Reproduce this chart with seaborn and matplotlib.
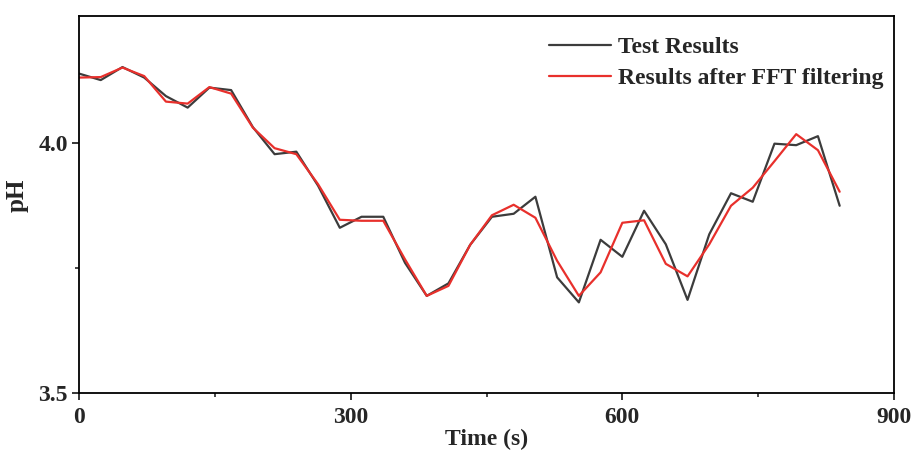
import numpy as np
import pandas as pd
import matplotlib
matplotlib.use("Agg")
import matplotlib.pyplot as plt
from matplotlib.ticker import FixedLocator
import seaborn as sns

time_s = [0, 24, 48, 72, 96, 120, 144, 168, 192, 216, 240, 264, 288, 312, 336, 360,
          384, 408, 432, 456, 480, 504, 528, 552, 576, 600, 624, 648, 672, 696, 720,
          744, 768, 792, 816, 840]
test_results = [4.138, 4.125, 4.151, 4.130, 4.093, 4.070, 4.110, 4.105, 4.031, 3.977,
                3.982, 3.914, 3.830, 3.852, 3.852, 3.760, 3.694, 3.719, 3.796, 3.852,
                3.858, 3.892, 3.731, 3.681, 3.806, 3.772, 3.864, 3.797, 3.686, 3.817,
                3.899, 3.882, 3.998, 3.995, 4.013, 3.874]
fft_results = [4.130, 4.131, 4.150, 4.133, 4.082, 4.078, 4.111, 4.098, 4.030, 3.989,
               3.977, 3.917, 3.846, 3.844, 3.844, 3.767, 3.694, 3.714, 3.796, 3.855,
               3.876, 3.850, 3.764, 3.694, 3.741, 3.840, 3.845, 3.758, 3.733, 3.797,
               3.874, 3.910, 3.963, 4.017, 3.985, 3.902]
series_names = ["Test Results", "Results after FFT filtering"]
x_ticks = [0, 300, 600, 900]
x_minor = [150, 450, 750]
y_ticks = [3.5, 4.0]
y_minor = [3.75]

df = pd.DataFrame({
    "Time (s)": time_s * 2,
    "pH": test_results + fft_results,
    "series": [series_names[0]] * len(time_s) + [series_names[1]] * len(time_s),
})

sns.set_theme(style="white")
plt.rcParams["font.family"] = ["Liberation Serif", "DejaVu Serif"]
plt.rcParams["font.weight"] = "bold"

fig = plt.figure(figsize=(9.14, 4.5), dpi=100)
ax = fig.add_axes([79 / 914, 1 - 393 / 450, (894 - 79) / 914, (393 - 16) / 450])

sns.lineplot(data=df, x="Time (s)", y="pH", hue="series",
             palette={series_names[0]: "#3c3c3c", series_names[1]: "#e8302c"},
             linewidth=1.6, ax=ax)

ax.set_xlim(0, 900)
ax.set_ylim(3.5, 4.253)
ax.set_xticks(x_ticks)
ax.set_yticks(y_ticks)
ax.set_yticklabels([f"{v:.1f}" for v in y_ticks])
ax.xaxis.set_minor_locator(FixedLocator(x_minor))
ax.yaxis.set_minor_locator(FixedLocator(y_minor))
ax.tick_params(axis="both", which="major", direction="out", length=5, width=1.3,
               labelsize=17, bottom=True, left=True, top=False, right=False)
ax.tick_params(axis="x", which="major", pad=5)
ax.tick_params(axis="y", which="major", pad=3)
ax.tick_params(axis="both", which="minor", direction="out", length=3, width=1.2,
               bottom=True, left=True, top=False, right=False)
for lab in ax.get_xticklabels() + ax.get_yticklabels():
    lab.set_fontweight("bold")
for sp in ax.spines.values():
    sp.set_visible(True)
    sp.set_color("black")
    sp.set_linewidth(1.3)

ax.set_xlabel("Time (s)", fontsize=17, fontweight="bold", labelpad=0.5)
ax.set_ylabel("pH", fontsize=18, fontweight="bold")
ax.yaxis.set_label_coords(-0.062, 0.525)

leg = ax.legend(loc="upper right", bbox_to_anchor=(1.0, 0.974), frameon=False,
                fontsize=17, handlelength=2.6, handletextpad=0.3, labelspacing=0.42,
                borderaxespad=0.05)
for t in leg.get_texts():
    t.set_fontweight("bold")
for h in leg.get_lines():
    h.set_linewidth(1.6)

fig.savefig("out.png", dpi=100)
